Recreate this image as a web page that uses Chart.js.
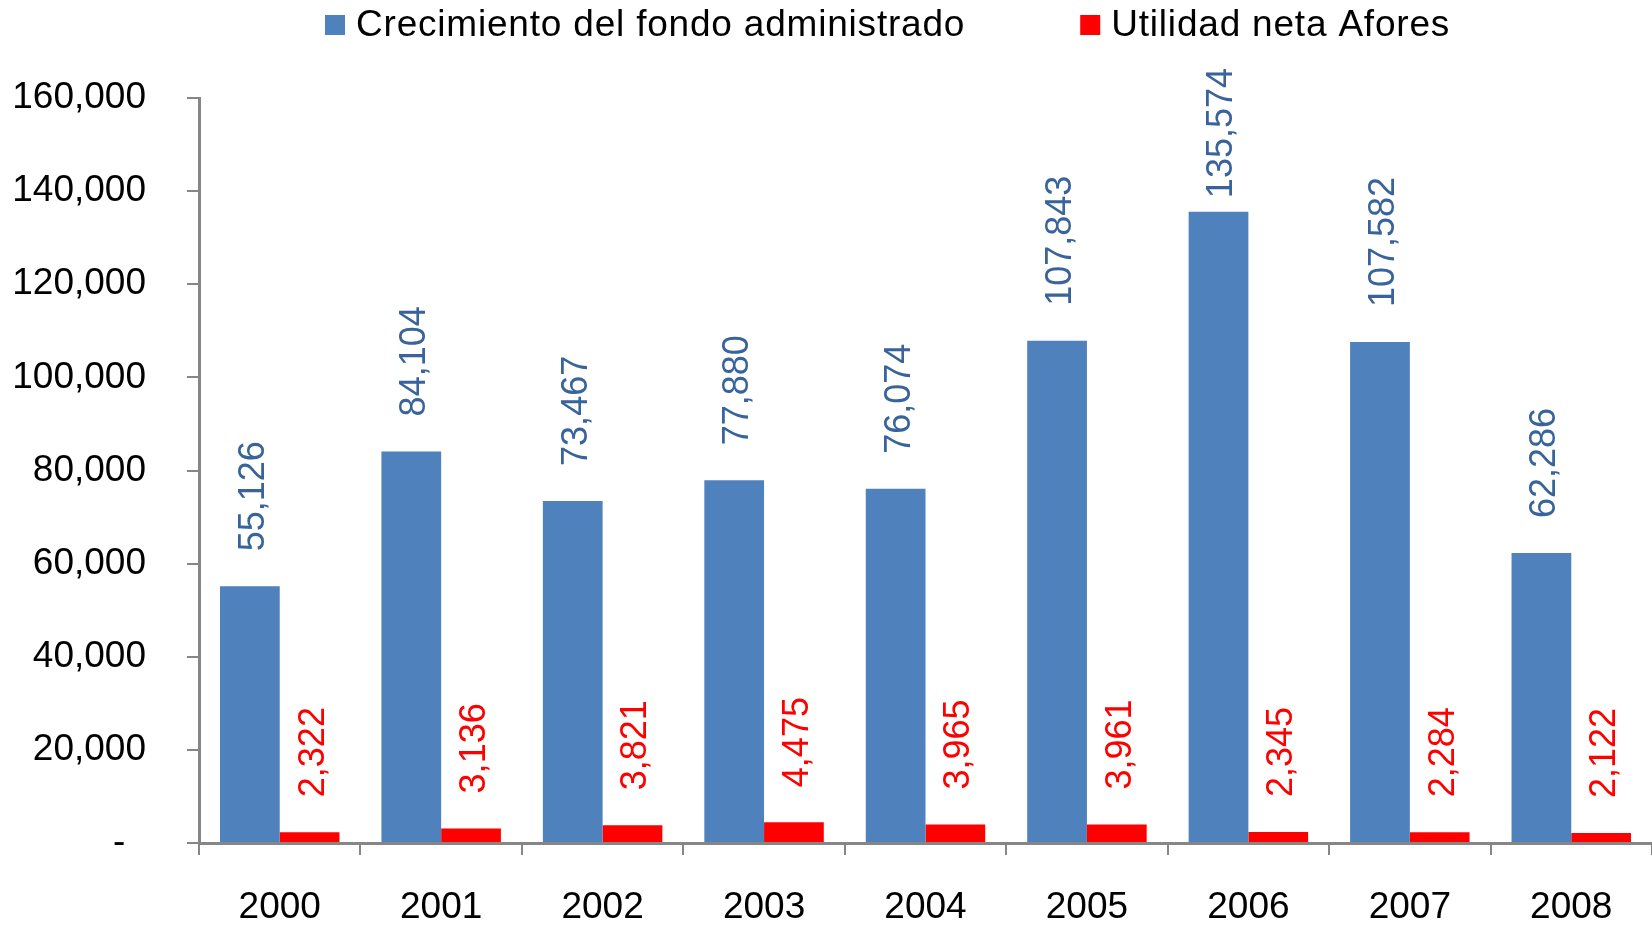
<!DOCTYPE html>
<html>
<head>
<meta charset="utf-8">
<script src="https://cdn.jsdelivr.net/npm/chart.js@4.4.0/dist/chart.umd.min.js"></script>
<style>
  html, body { margin: 0; padding: 0; background: #fff; }
  #wrap { width: 1652px; height: 925px; }
</style>
</head>
<body>
<div id="wrap"><canvas id="myChart" width="1652" height="925"></canvas></div>
<script>
const years = ['2000', '2001', '2002', '2003', '2004', '2005', '2006', '2007', '2008'];
const fondo = [55126, 84104, 73467, 77880, 76074, 107843, 135574, 107582, 62286];
const utilidad = [2322, 3136, 3821, 4475, 3965, 3961, 2345, 2284, 2122];
const seriesNames = ['Crecimiento del fondo administrado', 'Utilidad neta Afores'];

const COLORS = ['#4F81BD', '#FF0000'];
const LABEL_COLORS = ['#38649B', '#FF0000'];
const FONT = '"Liberation Sans", Arial, sans-serif';
const AXIS = '#868686';

// value labels, rotated, above each bar (pushed down if they would leave the canvas top)
const valueLabels = {
    id: 'valueLabels',
    afterDatasetsDraw(chart) {
        const ctx = chart.ctx;
        ctx.save();
        ctx.font = '36px ' + FONT;
        ctx.textBaseline = 'middle';
        ctx.textAlign = 'left';
        chart.data.datasets.forEach((ds, i) => {
            const meta = chart.getDatasetMeta(i);
            meta.data.forEach((bar, j) => {
                const txt = ds.data[j].toLocaleString('en-US');
                const w = ctx.measureText(txt).width;
                let start = bar.y - 35;
                if (start - w < 68) start = 68 + w;
                ctx.save();
                ctx.translate(bar.x + 4, start);
                ctx.rotate(-Math.PI / 2);
                ctx.fillStyle = LABEL_COLORS[i];
                ctx.fillText(txt, 0, 0);
                ctx.restore();
            });
        });
        ctx.restore();
    }
};

// legend drawn by hand so the gap between items can be wide
const topLegend = {
    id: 'topLegend',
    afterDraw(chart) {
        const ctx = chart.ctx;
        ctx.save();
        ctx.font = '37px ' + FONT;
        ctx.letterSpacing = '0.8px';
        ctx.textBaseline = 'middle';
        let x = 325;
        const y = 25;
        chart.data.datasets.forEach((ds, i) => {
            ctx.fillStyle = COLORS[i];
            ctx.fillRect(x, y - 10, 20, 20);
            x += 31;
            ctx.fillStyle = '#000';
            ctx.fillText(ds.label, x, y + 1);
            x += ctx.measureText(ds.label).width + 115;
        });
        ctx.restore();
    }
};

const data = {
    labels: years,
    datasets: [{
        label: seriesNames[0],
        backgroundColor: COLORS[0],
        data: fondo
    }, {
        label: seriesNames[1],
        backgroundColor: COLORS[1],
        data: utilidad
    }]
};

const config = {
    type: 'bar',
    data,
    options: {
        responsive: false,
        animation: false,
        layout: { padding: { top: 98, right: 0, left: 0, bottom: 0 } },
        datasets: {
            bar: { barPercentage: 1, categoryPercentage: 0.74 }
        },
        plugins: {
            legend: { display: false },
            tooltip: { enabled: false }
        },
        scales: {
            x: {
                afterFit(scale) { scale.height = 82; },
                grid: {
                    offset: true,
                    drawOnChartArea: false,
                    drawTicks: true,
                    tickLength: 12,
                    color: AXIS,
                    lineWidth: 2
                },
                border: { color: AXIS, width: 3 },
                ticks: {
                    color: '#000',
                    font: { family: FONT, size: 37 },
                    padding: 31
                }
            },
            y: {
                min: 0,
                max: 160000,
                afterFit(scale) { scale.width = 199; },
                grid: {
                    drawOnChartArea: false,
                    drawTicks: true,
                    tickLength: 12,
                    color: AXIS,
                    lineWidth: 2
                },
                border: { color: AXIS, width: 3 },
                ticks: {
                    stepSize: 20000,
                    color: '#000',
                    font: { family: FONT, size: 37 },
                    padding: 41,
                    callback: (v) => v === 0 ? '-  ' : v.toLocaleString('en-US')
                }
            }
        }
    },
    plugins: [valueLabels, topLegend]
};

var myChart = new Chart(document.getElementById('myChart'), config);
</script>
</body>
</html>
